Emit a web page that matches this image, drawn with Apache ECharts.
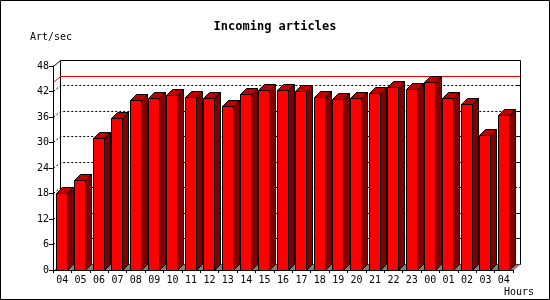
<!DOCTYPE html>
<html>
<head>
<meta charset="utf-8">
<script src="https://cdn.jsdelivr.net/npm/echarts@6/dist/echarts.min.js"></script>
<style>
html,body{margin:0;padding:0;background:#fff;}
#chart{width:550px;height:300px;}
</style>
</head>
<body>
<div id="chart"></div>
<script>
const titleText = 'Incoming articles';
const yAxisName = 'Art/sec';
const xAxisName = 'Hours';
const hours = ['04','05','06','07','08','09','10','11','12','13','14','15','16','17','18','19','20','21','22','23','00','01','02','03','04'];
const rates = [18.0,21.1,31.0,35.7,39.9,40.4,41.1,40.6,40.4,38.5,41.3,42.3,42.3,42.0,40.6,40.2,40.4,41.6,43.0,42.5,44.1,40.4,39.0,31.6,36.4];
const yMin = 0, yMax = 48, yStep = 6;
const gridValues = [6,12,18,24,30,36,42];
const rightTickValues = [6,12,24,30,36,42];

const maxRate = Math.max.apply(null, rates);
const DX = 7, DY = 6;      // wall depth
const BDX = 6, BDY = 6;    // bar depth
const FONT = 'DejaVu Sans Mono';
const px = v => Math.round(v - 0.5) + 0.5;

function renderBackdrop(params, api) {
  const cs = params.coordSys;
  const L = px(cs.x), T = px(cs.y), R = px(cs.x + cs.width), B = px(cs.y + cs.height);
  const children = [];
  children.push({type:'rect', shape:{x:L+DX, y:T-DY, width:R-L, height:B-T},
    style:{fill:'#fff', stroke:'#000', lineWidth:1}});
  gridValues.forEach(v => {
    const y = px(api.coord([0, v])[1]);
    children.push({type:'polyline', shape:{points:[[L, y],[L+DX, y-DY],[R+DX, y-DY]]},
      style:{fill:null, stroke:'#000', lineWidth:1, lineDash:[2,2]}});
  });
  rightTickValues.forEach(v => {
    const y = px(api.coord([0, v])[1]);
    children.push({type:'line', shape:{x1:R+DX-4, y1:y-DY, x2:R+DX, y2:y-DY},
      style:{stroke:'#000', lineWidth:1}});
  });
  const ym = px(api.coord([0, maxRate])[1]);
  children.push({type:'polyline', shape:{points:[[L, ym],[L+DX, ym-DY],[R+DX, ym-DY]]},
    style:{fill:null, stroke:'#ff0000', lineWidth:1}});
  children.push({type:'line', shape:{x1:L, y1:T, x2:L+DX, y2:T-DY}, style:{stroke:'#000', lineWidth:1}});
  children.push({type:'polygon', shape:{points:[[L,B],[R,B],[R+DX,B-DY],[L+DX,B-DY]]},
    style:{fill:'#808080', stroke:null}});
  return {type:'group', children};
}

function renderBar(params, api) {
  const i = api.value(0), v = api.value(1);
  const top = api.coord([i, v]);
  const base = api.coord([i, 0]);
  const bw = api.size([1, 0])[0];
  const x0 = px(top[0] - bw * 0.31);
  const x1 = px(x0 + bw * 0.6);
  const yt = px(top[1]);
  const yb = px(base[1]);
  const st = {stroke:'#000', lineWidth:1};
  return {type:'group', children:[
    {type:'polygon', shape:{points:[[x1,yb],[x1,yt],[x1+BDX,yt-BDY],[x1+BDX,yb-BDY]]},
      style:Object.assign({fill:'#800000'}, st)},
    {type:'polygon', shape:{points:[[x0,yt],[x1,yt],[x1+BDX,yt-BDY],[x0+BDX,yt-BDY]]},
      style:Object.assign({fill:'#c00000'}, st)},
    {type:'rect', shape:{x:x0, y:yt, width:x1-x0, height:yb-yt},
      style:Object.assign({fill:'#ff0000'}, st)}
  ]};
}

const chart = echarts.init(document.getElementById('chart'), null, {renderer:'canvas'});
chart.setOption({
  animation:false,
  backgroundColor:'#fff',
  grid:{left:53, right:37, top:66, bottom:30},
  xAxis:{
    type:'category', data:hours, boundaryGap:true, z:5,
    axisLine:{show:true, lineStyle:{color:'#000', width:1}},
    axisTick:{show:true, length:3, interval:0, lineStyle:{color:'#000'}},
    axisLabel:{interval:0, margin:5, color:'#000', fontFamily:FONT, fontSize:10},
    splitLine:{show:false}
  },
  yAxis:{
    type:'value', min:yMin, max:yMax, interval:yStep, z:5,
    axisLine:{show:true, lineStyle:{color:'#000', width:1}},
    axisTick:{show:true, length:4, lineStyle:{color:'#000'}},
    axisLabel:{margin:4, color:'#000', fontFamily:FONT, fontSize:10},
    splitLine:{show:false}
  },
  graphic:[
    {type:'rect', shape:{x:0.5, y:0.5, width:549, height:299}, style:{fill:null, stroke:'#000', lineWidth:1}, z:10},
    {type:'text', x:275, y:27, style:{text:titleText, font:'bold 12px "DejaVu Sans Mono"', fill:'#000', textAlign:'center', textVerticalAlign:'middle'}},
    {type:'text', x:30, y:37, style:{text:yAxisName, font:'10px "DejaVu Sans Mono"', fill:'#000', textAlign:'left', textVerticalAlign:'middle'}},
    {type:'text', x:504, y:292, style:{text:xAxisName, font:'10px "DejaVu Sans Mono"', fill:'#000', textAlign:'left', textVerticalAlign:'middle'}}
  ],
  series:[
    {type:'custom', z:1, silent:true, renderItem:renderBackdrop, data:[[0,0]], clip:false},
    {type:'custom', z:2, renderItem:renderBar, data:rates.map((v,i)=>[i,v]), clip:false}
  ]
});
</script>
</body>
</html>
